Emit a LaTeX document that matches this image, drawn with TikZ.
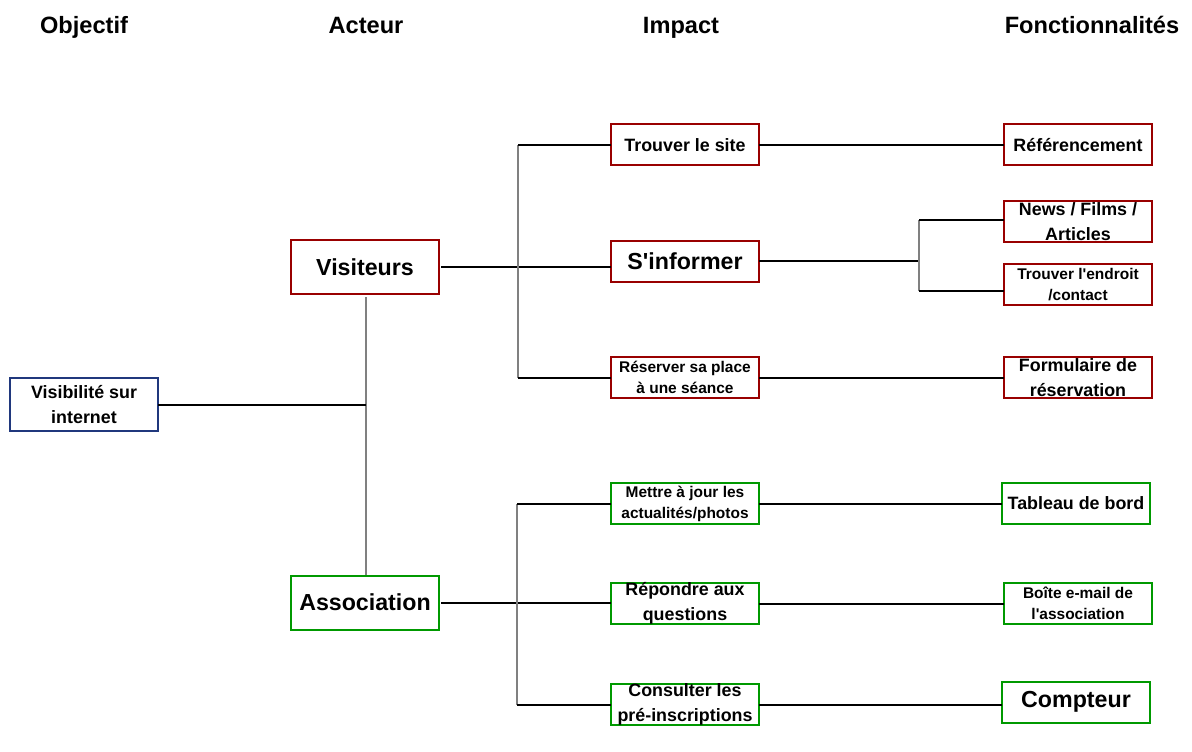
\documentclass[tikz,border=0pt]{standalone}
\usepackage{fontspec}
\setmainfont{Liberation Sans}
\usetikzlibrary{calc}
\definecolor{dred}{RGB}{153,0,0}
\definecolor{dgreen}{RGB}{0,153,0}
\definecolor{navy}{RGB}{32,56,125}
\definecolor{busgray}{RGB}{128,128,128}
\newcommand{\fL}{\fontsize{17.4pt}{23pt}\selectfont\bfseries}
\newcommand{\fM}{\fontsize{13.4pt}{18.5pt}\selectfont\bfseries}
\newcommand{\fS}{\fontsize{11.6pt}{15.8pt}\selectfont\bfseries}
\newcommand{\ap}{\textquotesingle}
\tikzset{
  box/.style={draw, line width=1.5pt, fill=white, inner sep=0pt, outer sep=0pt,
    minimum width=111pt, minimum height=30.75pt, align=center},
  redbox/.style={box, draw=dred},
  greenbox/.style={box, draw=dgreen},
  bluebox/.style={box, draw=navy},
  tL/.style={font=\fL},
  tM/.style={font=\fM},
  tS/.style={font=\fS},
  head/.style={anchor=base, font=\fontsize{17.7pt}{22pt}\selectfont\bfseries},
  conn/.style={line width=1.5pt, black},
  bus/.style={line width=1.1pt, busgray},
}
\begin{document}
\begin{tikzpicture}[x=0.75pt,y=-0.75pt]
\useasboundingbox (0,0) rectangle (1192,752);
% headers
\node[head] (h1) at (84,33.5) {Objectif};
\node[head] (h2) at (366,33.5) {Acteur};
\node[head] (h3) at (681,33.5) {Impact};
\node[head] (h4) at (1092,33.5) {Fonctionnalités};
% objective
\node[bluebox, tM, minimum height=40pt] (obj) at (84,404.5) {Visibilité sur\\internet};
% actors
\node[redbox, tL, minimum height=40.5pt] (visit) at (365,267.5) {Visiteurs};
\node[greenbox, tL, minimum height=40.5pt] (asso) at (365,602.5) {Association};
% impacts
\node[redbox, tM] (trouver) at (685,145) {Trouver le site};
\node[redbox, tL] (sinf) at (685,261.5) {S\ap informer};
\node[redbox, tS] (reserver) at (685,377.5) {Réserver sa place\\à une séance};
\node[greenbox, tS] (mettre) at (685,503.5) {Mettre à jour les\\actualités/photos};
\node[greenbox, tM] (repondre) at (685,603.5) {Répondre aux\\questions};
\node[greenbox, tM] (consulter) at (685,704.5) {Consulter les\\pré-inscriptions};
% features
\node[redbox, tM] (ref) at (1078,145) {Référencement};
\node[redbox, tM] (news) at (1078,221.5) {News / Films /\\Articles};
\node[redbox, tS] (endroit) at (1078,284.5) {Trouver l\ap endroit\\/contact};
\node[redbox, tM] (form) at (1078,377.5) {Formulaire de\\réservation};
\node[greenbox, tM] (tab) at (1076,503.5) {Tableau de bord};
\node[greenbox, tS] (boite) at (1078,603.5) {Boîte e-mail de\\l\ap association};
\node[greenbox, tL] (compteur) at (1076,702) {Compteur};
% bus coordinates
\coordinate (b1) at (518,0);
\coordinate (b2) at (919,0);
\coordinate (b3) at (517,0);
\coordinate (b0) at (366,0);
% objective to actors
\draw[bus] ($(visit.south)+(1,3)$) -- ($(asso.north)+(1,-1)$);
\draw[conn] (obj.east) -- (obj.east -| b0);
% visitors
\draw[conn] ($(visit.east)+(2,0)$) -- (visit.east -| sinf.west);
\draw[bus] (trouver.west -| b1) -- (reserver.west -| b1);
\draw[conn] (trouver.west -| b1) -- (trouver.west);
\draw[conn] (reserver.west -| b1) -- (reserver.west);
% association
\draw[conn] ($(asso.east)+(2,0)$) -- (asso.east -| repondre.west);
\draw[bus] (mettre.west -| b3) -- (consulter.west -| b3);
\draw[conn] (mettre.west -| b3) -- (mettre.west);
\draw[conn] (consulter.west -| b3) -- (consulter.west);
% impacts to features
\draw[conn] (trouver.east) -- (ref.west);
\draw[conn] (sinf.east) -- (sinf.east -| b2);
\draw[bus] ($(news.west -| b2)+(0,-1.5)$) -- ($(endroit.west -| b2)+(0,6.5)$);
\draw[conn] ($(news.west -| b2)+(0,-1.5)$) -- ($(news.west)+(0,-1.5)$);
\draw[conn] ($(endroit.west -| b2)+(0,6.5)$) -- ($(endroit.west)+(0,6.5)$);
\draw[conn] (reserver.east) -- (form.west);
\draw[conn] (mettre.east) -- (tab.west);
\draw[conn] (repondre.east) -- (boite.west);
\draw[conn] (consulter.east) -- (consulter.east -| compteur.west);
\end{tikzpicture}
\end{document}
